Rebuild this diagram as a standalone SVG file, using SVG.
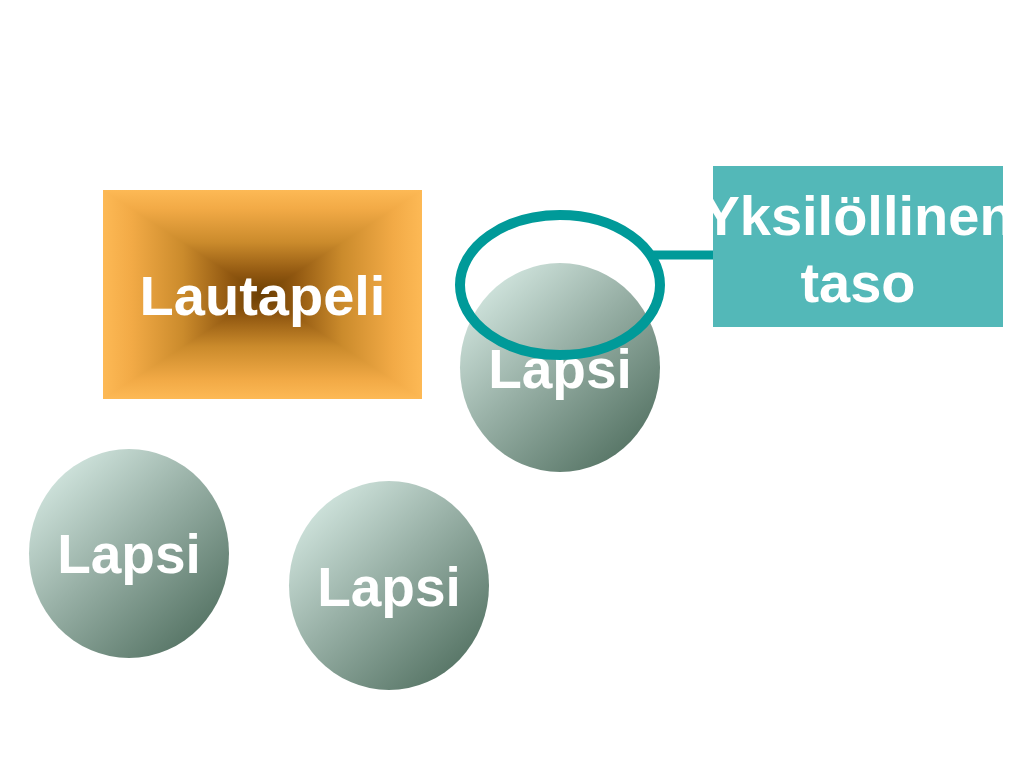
<svg xmlns="http://www.w3.org/2000/svg" width="1024" height="768" viewBox="0 0 1024 768">
  <defs>
    <linearGradient id="ball" x1="0.15" y1="0.1" x2="0.85" y2="0.9">
      <stop offset="0" stop-color="#CFE3DC"/>
      <stop offset="0.45" stop-color="#98B0A6"/>
      <stop offset="1" stop-color="#577566"/>
    </linearGradient>
    <linearGradient id="box" gradientUnits="objectBoundingBox" x1="0" y1="0" x2="0" y2="1">
      <stop offset="0" stop-color="#FDB955"/>
      <stop offset="0.18" stop-color="#F2AA46"/>
      <stop offset="0.5" stop-color="#CB8B2C"/>
      <stop offset="0.8" stop-color="#905710"/>
      <stop offset="1" stop-color="#6A3E02"/>
    </linearGradient>
    <linearGradient id="gTop" href="#box" gradientUnits="userSpaceOnUse" x1="0" y1="190" x2="0" y2="294.5"/>
    <linearGradient id="gBot" href="#box" gradientUnits="userSpaceOnUse" x1="0" y1="399" x2="0" y2="294.5"/>
    <linearGradient id="gLeft" href="#box" gradientUnits="userSpaceOnUse" x1="103" y1="0" x2="262.5" y2="0"/>
    <linearGradient id="gRight" href="#box" gradientUnits="userSpaceOnUse" x1="422" y1="0" x2="262.5" y2="0"/>
  </defs>
  <style>
    .lbl { font-family: "Liberation Sans", Arial, sans-serif; font-weight: bold; fill: #FFFFFF; text-anchor: middle; }
    .ball { fill: url(#ball); }
    .teal { fill: none; stroke: #009A99; }
    .tri { shape-rendering: crispEdges; }
  </style>
  <rect width="1024" height="768" fill="#FFFFFF"/>

  <g id="lautapeli">
    <polygon class="tri" points="103,190 422,190 262.5,294.5" fill="url(#gTop)"/>
    <polygon class="tri" points="103,399 422,399 262.5,294.5" fill="url(#gBot)"/>
    <polygon class="tri" points="103,190 103,399 262.5,294.5" fill="url(#gLeft)"/>
    <polygon class="tri" points="422,190 422,399 262.5,294.5" fill="url(#gRight)"/>
    <text class="lbl" x="262.5" y="315" font-size="56">Lautapeli</text>
  </g>

  <g id="lapsi1">
    <ellipse class="ball" cx="560" cy="367.5" rx="100" ry="104.5"/>
    <text class="lbl" x="560" y="388" font-size="55">Lapsi</text>
  </g>

  <g id="lapsi2">
    <ellipse class="ball" cx="129" cy="553.5" rx="100" ry="104.5"/>
    <text class="lbl" x="129" y="573" font-size="55">Lapsi</text>
  </g>

  <g id="lapsi3">
    <ellipse class="ball" cx="389" cy="585.5" rx="100" ry="104.5"/>
    <text class="lbl" x="389" y="606" font-size="55">Lapsi</text>
  </g>

  <g id="yksilollinen">
    <rect x="713" y="166" width="290" height="161" fill="#53B8B8"/>
    <text class="lbl" x="858" y="235" font-size="56">Yksilöllinen</text>
    <text class="lbl" x="858" y="302" font-size="56">taso</text>
  </g>

  <g id="connectors">
    <line class="teal" x1="652" y1="255" x2="713" y2="255" stroke-width="9"/>
    <ellipse class="teal" cx="560" cy="285" rx="100" ry="70" stroke-width="10"/>
  </g>
</svg>
